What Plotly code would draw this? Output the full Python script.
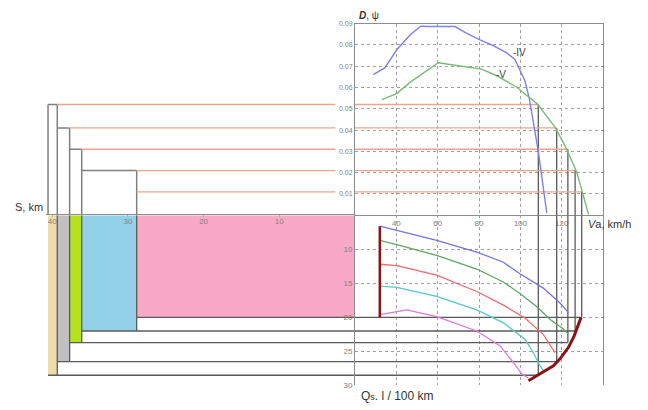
import plotly.graph_objects as go

W, H = 648, 410

# ---- top panel: resistance coefficient D (psi) vs speed Va ----
iv_va = [28.9, 34.5, 40.2, 46.6, 51.8, 54.7, 68.4, 74.1, 80.5, 86.9, 93.4, 97.4, 102.2, 104.3, 108.7, 112.8]
iv_d = [0.066, 0.0693, 0.0777, 0.0846, 0.0888, 0.0886, 0.0886, 0.0854, 0.0823, 0.0796, 0.0762, 0.0731, 0.0632, 0.055, 0.030, 0.001]
v_va = [33.0, 40.2, 46.6, 54.7, 60.3, 70.8, 81.3, 88.6, 98.3, 108.5, 117.0, 121.6, 124.0, 127.3, 129.7, 133.0]
v_d = [0.0543, 0.0571, 0.0624, 0.0678, 0.0716, 0.0701, 0.0686, 0.0655, 0.0601, 0.052, 0.041, 0.0326, 0.0272, 0.0203, 0.0119, 0.0005]

# ---- bottom panel: fuel consumption Qs vs speed Va ----
q_blue_va = [32, 40.2, 59.5, 78.9, 91.8, 99.8, 111.1, 119.2, 123.3]
q_blue = [6.6, 7.2, 8.7, 10.4, 11.9, 13.6, 15.7, 17.9, 19.3]
q_green_va = [32, 40.2, 59.5, 78.9, 91.8, 99.8, 107.9, 114.4, 120.8, 123.3]
q_green = [8.7, 9.3, 10.9, 12.9, 14.8, 16.5, 18.4, 20.3, 21.7, 22.5]
q_red_va = [32, 40.2, 59.5, 78.9, 91.8, 102.2, 111.1, 115.2, 116.8]
q_red = [12.2, 12.4, 13.8, 16.2, 18.2, 20.1, 22.5, 24.5, 25.2]
q_cyan_va = [32, 40.2, 59.5, 78.9, 91.8, 102.2, 106.3, 109.5, 111.1]
q_cyan = [15.4, 15.6, 16.9, 18.9, 20.8, 23.2, 25.2, 27.1, 27.8]
q_mag_va = [32, 45.0, 59.5, 78.9, 90.2, 96.6, 100.6, 103.9]
q_mag = [19.6, 18.9, 19.9, 22.0, 24.2, 26.6, 28.3, 28.9]
env_va = [103.9, 109.5, 116.0, 119.2, 123.3, 126.0, 129.4]
env_q = [29.3, 28.3, 27.1, 26.1, 24.4, 22.75, 20.0]
start_va = [32, 32]
start_q = [6.6, 20.0]

# ---- construction levels (beige, gray, green, blue, pink) ----
lvl_s = [40.55, 39.33, 37.7, 36.1, 28.84]
lvl_q = [28.5, 26.5, 23.7, 22.0, 20.0]
lvl_d = [0.052, 0.041, 0.031, 0.021, 0.011]
lvl_va = [108.7, 117.6, 123.0, 126.5, 129.7]
lvl_fill = ["#eedcaa", "#c0c0c4", "#b4e21e", "#92d1e8", "#f8a9c6"]

s_ticks = [10, 20, 30, 40]
va_ticks = [40, 60, 80, 100, 120]
d_ticks = [0.01, 0.02, 0.03, 0.04, 0.05, 0.06, 0.07, 0.08, 0.09]
q_ticks = [10, 15, 20, 25, 30]

GRAY = "#808080"
DARK = "#5a5a5a"
ORANGE = "#eba48e"
RED = "#8b1414"

fig = go.Figure()


def line(x, y, xa, ya, color, width=1.3):
    fig.add_trace(go.Scatter(x=x, y=y, xaxis=xa, yaxis=ya, mode="lines",
                             line=dict(color=color, width=width),
                             hoverinfo="skip", showlegend=False))


# filled rectangles in the left lower panel
bounds = lvl_s[1:] + [0]
for j in range(5):
    s_in, s_out, q = bounds[j], lvl_s[j], lvl_q[j]
    fig.add_trace(go.Scatter(x=[s_in, s_out, s_out, s_in, s_in], y=[5, 5, q, q, 5],
                             xaxis="x", yaxis="y4", mode="lines", fill="toself",
                             fillcolor=lvl_fill[j], line=dict(width=0),
                             hoverinfo="skip", showlegend=False))

# edges / horizontal lines of the lower construction
for j in range(5):
    line([lvl_s[j], 0], [lvl_q[j], lvl_q[j]], "x", "y4", DARK)
    line([20, lvl_va[j]], [lvl_q[j], lvl_q[j]], "x3", "y2", DARK)
    if j < 4:
        line([lvl_s[j + 1], lvl_s[j + 1]], [5, lvl_q[j]], "x", "y4", DARK)

# staircase in the left upper panel
line([lvl_s[0], lvl_s[0]], [0, lvl_d[0]], "x", "y3", GRAY, 1.5)
for j in range(4):
    line([lvl_s[j + 1], lvl_s[j + 1]], [0, lvl_d[j]], "x", "y3", GRAY, 1.5)
    line([lvl_s[j], lvl_s[j + 1]], [lvl_d[j], lvl_d[j]], "x", "y3", GRAY, 1.5)
orange_start = lvl_s[1:] + [lvl_s[4]]
for j in range(5):
    line([orange_start[j], 2.6], [lvl_d[j], lvl_d[j]], "x", "y3", ORANGE, 1.3)
    line([20, lvl_va[j]], [lvl_d[j], lvl_d[j]], "x2", "y", ORANGE, 1.3)
    line([lvl_va[j], lvl_va[j]], [lvl_d[j], 0], "x2", "y", DARK)
    line([lvl_va[j], lvl_va[j]], [5, lvl_q[j]], "x3", "y2", DARK)

# D curves
line(iv_va, iv_d, "x2", "y", "#8080ee", 1.4)
line(v_va, v_d, "x2", "y", "#78bb78", 1.4)

# Qs curves
line(q_blue_va, q_blue, "x3", "y2", "#7373ea", 1.3)
line(q_green_va, q_green, "x3", "y2", "#5fa85f", 1.3)
line(q_red_va, q_red, "x3", "y2", "#ee6b6b", 1.3)
line(q_cyan_va, q_cyan, "x3", "y2", "#55c8c8", 1.3)
line(q_mag_va, q_mag, "x3", "y2", "#dc78dc", 1.3)
line(env_va, env_q, "x3", "y2", RED, 3)
line(start_va, start_q, "x3", "y2", RED, 2.5)

tickfont = dict(family="Liberation Sans, Arial", size=8, color="#808080")
axline = "#8c8c8c"
grid = "#a0a0a0"

fig.update_layout(
    width=W, height=H, margin=dict(l=0, r=0, t=0, b=0),
    paper_bgcolor="white", plot_bgcolor="rgba(0,0,0,0)", showlegend=False,
    xaxis=dict(domain=[46 / W, 355 / W], range=[40.82, 0], anchor="y4", side="top",
               showline=True, linecolor=axline, linewidth=1, showgrid=False, zeroline=False,
               tickvals=s_ticks, ticks="inside", ticklen=2, tickcolor="#aaa",
               ticklabelposition="inside", tickfont=tickfont),
    xaxis2=dict(domain=[355 / W, 603 / W], range=[20, 140], anchor="y",
                showline=True, mirror=True, linecolor=axline, linewidth=1,
                showgrid=True, gridcolor=grid, griddash="dot", gridwidth=1, zeroline=False,
                tickvals=va_ticks, ticks="", tickfont=tickfont),
    xaxis3=dict(domain=[355 / W, 603 / W], range=[20, 140], anchor="y2", matches="x2",
                showline=False, showgrid=True, gridcolor=grid, griddash="dot", gridwidth=1,
                zeroline=False, tickvals=va_ticks, showticklabels=False),
    yaxis=dict(domain=[1 - 216 / H, 1 - 20 / H], range=[0, 0.09], anchor="x2",
               showline=True, mirror=True, linecolor=axline, linewidth=1,
               showgrid=True, gridcolor=grid, griddash="dot", gridwidth=1, zeroline=False,
               tickvals=d_ticks, tickformat=".2f", ticks="",
               tickfont=dict(family="Liberation Sans, Arial", size=7, color="#808080")),
    yaxis2=dict(domain=[1 - 390 / H, 1 - 216 / H], range=[30, 5], anchor="x3",
                showline=True, mirror=True, linecolor=axline, linewidth=1,
                showgrid=True, gridcolor=grid, griddash="dot", gridwidth=1, zeroline=False,
                tickvals=q_ticks, ticks="", tickfont=tickfont),
    yaxis3=dict(domain=[1 - 216 / H, 1 - 20 / H], range=[0, 0.09], anchor="x",
                visible=False, showgrid=False, zeroline=False),
    yaxis4=dict(domain=[1 - 390 / H, 1 - 216 / H], range=[30, 5], anchor="x",
                visible=False, showgrid=False, zeroline=False),
)

txt = dict(family="Liberation Sans, Arial", size=11, color="#333333")
fig.add_annotation(x=357 / W, y=1 - 12 / H, xref="paper", yref="paper", xanchor="left",
                   yanchor="middle", showarrow=False, text="<b><i>D</i></b>, ψ",
                   font=dict(family="Liberation Sans, Arial", size=10, color="#333"))
fig.add_annotation(x=511 / W, y=1 - 50 / H, xref="paper", yref="paper", xanchor="left",
                   yanchor="middle", showarrow=False, text="-IV",
                   font=dict(family="Liberation Sans, Arial", size=10, color="#444"))
fig.add_annotation(x=494 / W, y=1 - 72 / H, xref="paper", yref="paper", xanchor="left",
                   yanchor="middle", showarrow=False, text="-V",
                   font=dict(family="Liberation Sans, Arial", size=10, color="#444"))
fig.add_annotation(x=586 / W, y=1 - 225 / H, xref="paper", yref="paper", xanchor="left",
                   yanchor="middle", showarrow=False,
                   text="<i>V</i>a, km/h", font=txt)
fig.add_annotation(x=359 / W, y=1 - 401 / H, xref="paper", yref="paper", xanchor="left",
                   yanchor="middle", showarrow=False,
                   text="Q<span style='font-size:9px'>s</span>. l / 100 km",
                   font=dict(family="Liberation Sans, Arial", size=12, color="#333"))
fig.add_annotation(x=29 / W, y=1 - 208 / H, xref="paper", yref="paper", xanchor="center",
                   yanchor="middle", showarrow=False, text="S, km", font=txt)

fig.write_html("out.html", config={"displayModeBar": False},
               post_script="document.body.style.margin='0px';")
